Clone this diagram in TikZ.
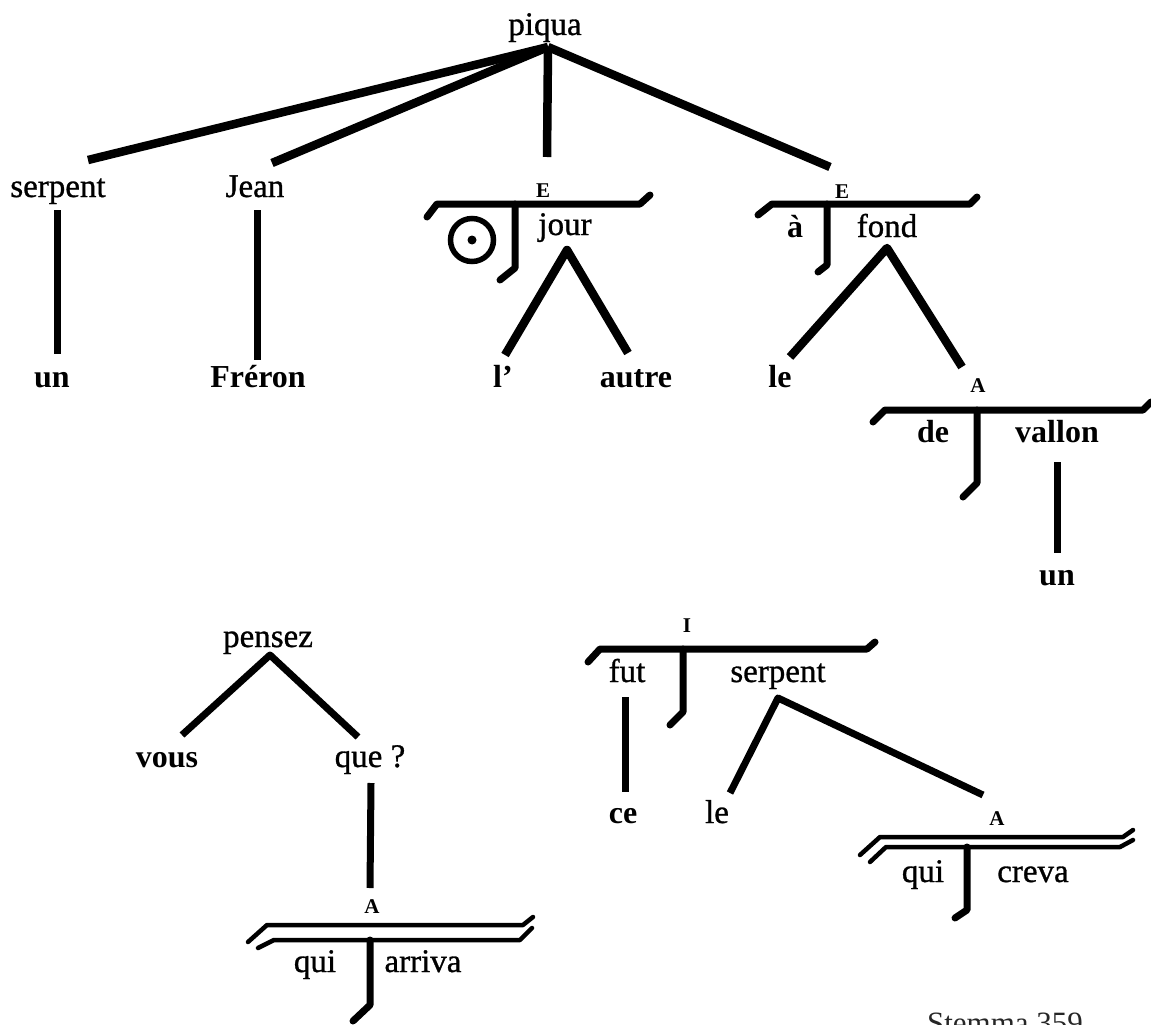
\documentclass[tikz,border=0pt]{standalone}
\usepackage{fontspec}
\setmainfont{Liberation Serif}
\newfontfamily\heavyserif[FakeBold=0.9]{Liberation Serif}
\begin{document}
\begin{tikzpicture}[x=1pt,y=-1pt,
  word/.style={font=\fontsize{33}{36}\selectfont\heavyserif, inner sep=0pt, anchor=base},
  bword/.style={font=\fontsize{32}{36}\selectfont\bfseries, inner sep=0pt, anchor=base},
  lab/.style={font=\fontsize{21}{23}\selectfont\bfseries, inner sep=0pt, anchor=base},
  captext/.style={font=\fontsize{31}{34}\selectfont, inner sep=0pt, anchor=base, text=black!85},
  edge/.style={line width=8.5pt, line cap=butt, line join=round},
  thin edge/.style={line width=7pt, line cap=butt, line join=round},
  bar/.style={line width=7pt, line cap=round, line join=round},
  dbar/.style={line width=4.5pt, line cap=round, line join=round}]
\useasboundingbox (0,0) rectangle (1151,1025);

% ---------- first stemma: words ----------
\node[word]  (piqua)   at (545,35)  {piqua};
\node[word]  (serpentA) at (58,197) {serpent};
\node[word]  (jean)    at (255,197) {Jean};
\node[bword] (un1)     at (52,387)  {un};
\node[bword] (freron)  at (258,387) {Fréron};
\node[lab]   (E1)      at (543,197) {E};
\node[lab]   (E2)      at (842,198) {E};
\node[word]  (jour)    at (565,235) {jour};
\node[bword] (a)       at (795,237) {à};
\node[word]  (fond)    at (887,237) {fond};
\node[bword] (l)       at (503,387) {l’};
\node[bword] (autre)   at (636,387) {autre};
\node[bword] (le1)     at (780,387) {le};
\node[lab]   (A1)      at (978,392) {A};
\node[bword] (de)      at (933,442) {de};
\node[bword] (vallon)  at (1057,442) {vallon};
\node[bword] (un2)     at (1057,585) {un};

% junction coordinates
\coordinate (pJ) at (548,47);
\coordinate (serT) at (88,160);
\coordinate (jeanT) at (272,163);
\coordinate (E1T) at (547,157);
\coordinate (E2T) at (830,167);
\coordinate (serB) at (57,210);
\coordinate (unT) at (57,354);
\coordinate (jeanB) at (257,210);
\coordinate (freT) at (257,360);
\coordinate (jourJ) at (567,250);
\coordinate (lT) at (505,355);
\coordinate (autreT) at (628,353);
\coordinate (fondJ) at (887,248);
\coordinate (leT) at (790,357);
\coordinate (AT) at (962,367);
\coordinate (valB) at (1057,462);
\coordinate (un2T) at (1057,553);

\draw[edge] (pJ) -- (serT);
\draw[edge] (pJ) -- (jeanT);
\draw[edge] (pJ) -- (E1T);
\draw[edge] (pJ) -- (E2T);
\draw[thin edge] (serB) -- (unT);
\draw[thin edge] (jeanB) -- (freT);
\draw[edge] (lT) -- (jourJ) -- (autreT);
\draw[edge] (leT) -- (fondJ) -- (AT);
\draw[thin edge] (valB) -- (un2T);

% E junction 1
\draw[bar] (427,217) -- (437,204) -- (640,204) -- (650,195);
\draw[bar] (515,204) -- (515,268) -- (500,280);
\node[circle, draw, line width=5.5pt, minimum size=43pt, inner sep=0pt] (circ) at (472,240) {};
\fill (circ.center) circle (4.5);
% E junction 2
\draw[bar] (758,215) -- (772,204) -- (970,204) -- (977,197);
\draw[bar] (827,204) -- (827,265) -- (818,272);
% A junction (de vallon)
\draw[bar] (873,422) -- (885,410) -- (1143,410) -- (1151,402);
\draw[bar] (977,410) -- (977,483) -- (963,497);

% ---------- second stemma ----------
\node[word]  (pensez) at (268,647) {pensez};
\node[bword] (vous)   at (167,767) {vous};
\node[word]  (que)    at (370,767) {que ?};
\node[lab]   (A2)     at (372,913) {A};
\node[word]  (qui1)   at (315,972) {qui};
\node[word]  (arriva) at (423,972) {arriva};

\coordinate (penJ) at (270,655);
\coordinate (vousT) at (182,735);
\coordinate (queT) at (358,737);
\coordinate (queB) at (371,783);
\coordinate (A2T) at (370,888);
\draw[thin edge] (vousT) -- (penJ) -- (queT);
\draw[thin edge] (queB) -- (A2T);

\draw[dbar] (248,942) -- (267,925) -- (523,925) -- (533,917);
\draw[dbar] (258,948) -- (274,940) -- (520,940) -- (532,928);
\draw[bar] (370,940) -- (370,1005) -- (353,1021);

% ---------- third stemma ----------
\node[lab]   (I)       at (687,632) {I};
\node[word]  (fut)     at (627,682) {fut};
\node[word]  (serpentB) at (778,682) {serpent};
\node[bword] (ce)      at (623,823) {ce};
\node[word]  (le2)     at (717,823) {le};
\node[lab]   (A3)      at (997,825) {A};
\node[word]  (qui2)    at (923,882) {qui};
\node[word]  (creva)   at (1033,882) {creva};

\coordinate (futB) at (625,697);
\coordinate (ceT) at (625,792);
\coordinate (serJ) at (778,698);
\coordinate (le2T) at (730,793);
\coordinate (A3T) at (983,795);
\draw[thin edge] (futB) -- (ceT);
\draw[thin edge] (le2T) -- (serJ) -- (A3T);

\draw[bar] (588,662) -- (600,649) -- (867,649) -- (875,642);
\draw[bar] (683,649) -- (683,712) -- (670,725);

\draw[dbar] (860,855) -- (880,837) -- (1123,837) -- (1133,830);
\draw[dbar] (870,862) -- (886,847) -- (1120,847) -- (1133,840);
\draw[bar] (967,847) -- (967,910) -- (955,918);

% caption
\node[captext] (caption) at (1005,1033) {Stemma 359};
\end{tikzpicture}
\end{document}
